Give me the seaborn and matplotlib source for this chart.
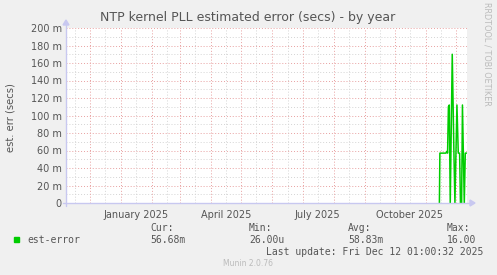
import matplotlib
matplotlib.use("Agg")
import matplotlib.pyplot as plt
import seaborn as sns
import pandas as pd
import numpy as np

# ---- data ----
dates = ["2025-11-14 12:00", "2025-11-15 00:00", "2025-11-21 00:00", "2025-11-22 00:00",
         "2025-11-22 16:00", "2025-11-23 12:00", "2025-11-24 08:00", "2025-11-25 08:00",
         "2025-11-27 08:00", "2025-11-29 00:00", "2025-11-30 00:00", "2025-12-02 00:00",
         "2025-12-03 08:00", "2025-12-04 16:00", "2025-12-05 12:00", "2025-12-06 16:00",
         "2025-12-07 12:00", "2025-12-09 08:00", "2025-12-10 08:00", "2025-12-11 16:00"]
est_error = [0.0, 0.057, 0.057, 0.059, 0.057, 0.110, 0.112, 0.0, 0.170, 0.057, 0.0, 0.112,
             0.057, 0.057, 0.0, 0.0, 0.112, 0.0, 0.057, 0.057]
x_start = "2024-11-07 01:00"
x_end = "2025-12-12 01:00"
ytick_vals = [0, 0.02, 0.04, 0.06, 0.08, 0.10, 0.12, 0.14, 0.16, 0.18, 0.20]
ytick_labels = ["0", "20 m", "40 m", "60 m", "80 m", "100 m", "120 m", "140 m", "160 m", "180 m", "200 m"]
xlabel_dates = ["2025-01-16", "2025-04-16", "2025-07-16", "2025-10-16"]
xlabel_months = ["January 2025", "April 2025", "July 2025", "October 2025"]
title = "NTP kernel PLL estimated error (secs) - by year"
ylabel = "est. err (secs)"
series_name = "est-error"
stats_heads = ["Cur:", "Min:", "Avg:", "Max:"]
stats_vals = ["56.68m", "26.00u", "58.83m", "16.00"]
last_update = "Last update: Fri Dec 12 01:00:32 2025"

df = pd.DataFrame({"date": pd.to_datetime(dates), "value": est_error})

sns.set_theme(style="white")
plt.rcParams['font.family'] = ['DejaVu Sans']

W, H = 497, 275
fig = plt.figure(figsize=(W / 100, H / 100), dpi=100)
fig.patch.set_facecolor("#f0f0f0")

L, R, T, B = 66, 467, 28, 203
ax = fig.add_axes([L / W, 1 - B / H, (R - L) / W, (B - T) / H])
ax.set_facecolor("white")

red = "#e8a0a0"
gray = "#d4d4d4"
txt = "#555555"

# grid
for y in np.arange(0.01, 0.2, 0.02):
    ax.axhline(y, color=gray, lw=0.7, ls=(0, (1, 2)), zorder=1)
for y in np.arange(0.02, 0.201, 0.02):
    ax.axhline(y, color=red, lw=0.7, ls=(0, (1, 2)), zorder=1)

xs = pd.Timestamp(x_start)
xe = pd.Timestamp(x_end)
ax.set_xlim(xs, xe)
ax.set_ylim(0, 0.2)

month_starts = pd.date_range("2024-12-01", "2025-12-01", freq="MS")
mid_months = [d for d in pd.date_range("2024-11-01", "2025-12-01", freq="MS") + pd.Timedelta(days=15)
              if xs < d < xe]
for d in mid_months:
    ax.axvline(d, color=gray, lw=0.7, ls=(0, (1, 2)), zorder=1)
for d in month_starts:
    ax.axvline(d, color=red, lw=0.7, ls=(0, (1, 2)), zorder=1)

sns.lineplot(data=df, x="date", y="value", ax=ax, color="#00cc00", lw=1.1, zorder=3)

# ticks
ax.set_yticks(ytick_vals)
ax.set_yticklabels(ytick_labels)
ax.set_xticks(pd.to_datetime(xlabel_dates))
ax.set_xticklabels(xlabel_months)
ax.tick_params(axis="both", length=0, labelsize=7, colors=txt, pad=3)
ax.tick_params(axis="x", pad=5)
ax.set_xlabel("")
ax.set_ylabel(ylabel, fontsize=7.2, color=txt)
ax.yaxis.set_label_coords(-51 / (R - L), 0.49)
for s in ax.spines.values():
    s.set_visible(False)

# axis lines with arrows (in figure pixel coords)
axc = "#c8c8f0"
fig.add_artist(plt.Line2D([L / W, L / W], [1 - (B + 3) / H, 1 - 24 / H], color=axc, lw=1))
fig.add_artist(plt.Line2D([(L - 3) / W, 471 / W], [1 - B / H, 1 - B / H], color=axc, lw=1))
fig.add_artist(plt.Polygon([[(L - 3) / W, 1 - 25 / H], [(L + 3) / W, 1 - 25 / H], [L / W, 1 - 20 / H]],
                           closed=True, color=axc, transform=fig.transFigure))
fig.add_artist(plt.Polygon([[470 / W, 1 - (B - 3) / H], [470 / W, 1 - (B + 3) / H], [475 / W, 1 - B / H]],
                           closed=True, color=axc, transform=fig.transFigure))

# title and side texts
fig.text(248 / W, 1 - 18 / H, title, ha="center", va="center", fontsize=9, color=txt)
fig.text(487 / W, 1 - 54 / H, "RRDTOOL / TOBI OETIKER", rotation=-90, ha="center", va="center",
         fontsize=5.9, color="#bbbbbb")

mono = "DejaVu Sans Mono"
fig.patches.append(plt.Rectangle((14 / W, 1 - 242 / H), 5 / W, 5 / H, color="#00cc00",
                                 transform=fig.transFigure, figure=fig))
fig.text(27 / W, 1 - 240 / H, series_name, ha="left", va="center", fontsize=7, color=txt, family=mono)
for i, (h, v) in enumerate(zip(stats_heads, stats_vals)):
    x = (150 + 99 * i) / W
    fig.text(x, 1 - 228 / H, h, ha="left", va="center", fontsize=7, color=txt, family=mono)
    fig.text(x, 1 - 240 / H, v, ha="left", va="center", fontsize=7, color=txt, family=mono)
fig.text(483 / W, 1 - 252 / H, last_update, ha="right", va="center", fontsize=7, color=txt, family=mono)
fig.text(248 / W, 1 - 264 / H, "Munin 2.0.76", ha="center", va="center", fontsize=5.5, color="#bbbbbb")

fig.savefig("out.png", dpi=100, facecolor=fig.get_facecolor())
